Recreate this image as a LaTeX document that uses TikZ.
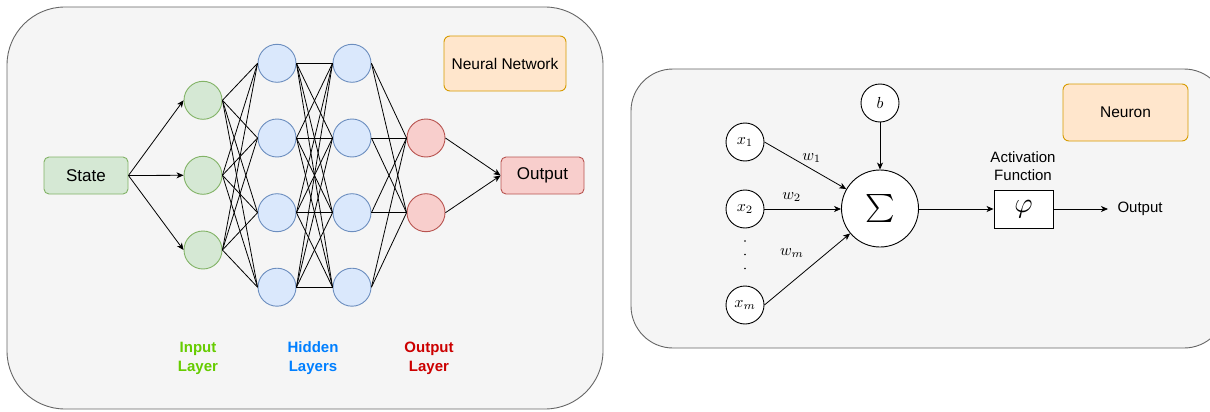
\documentclass[tikz,border=0pt]{standalone}
\usepackage{graphicx}
\usepackage{fontspec}
\setmainfont{Liberation Sans}
\usetikzlibrary{arrows.meta}

\definecolor{panelfill}{HTML}{F5F5F5}
\definecolor{paneldraw}{HTML}{666666}
\definecolor{greenfill}{HTML}{D5E8D4}
\definecolor{greendraw}{HTML}{82B366}
\definecolor{bluefill}{HTML}{DAE8FC}
\definecolor{bluedraw}{HTML}{6C8EBF}
\definecolor{redfill}{HTML}{F8CECC}
\definecolor{reddraw}{HTML}{B85450}
\definecolor{orangefill}{HTML}{FFE6CC}
\definecolor{orangedraw}{HTML}{D79B00}
\definecolor{inlabel}{HTML}{66CC00}
\definecolor{hidlabel}{HTML}{007FFF}
\definecolor{outlabel}{HTML}{CC0000}

% math set at the default size and enlarged
\newcommand{\bigmath}[2]{\scalebox{#1}{$#2$}}

\tikzset{
  panel/.style={draw=paneldraw, fill=panelfill, line width=0.9pt},
  tagbox/.style={draw=orangedraw, fill=orangefill, rounded corners=6pt, line width=0.9pt,
    font=\fontsize{15.5}{18}\selectfont},
  databox/.style={rounded corners=5pt, line width=0.9pt, minimum height=37pt,
    font=\fontsize{17}{20}\selectfont},
  unit/.style={circle, minimum size=38pt, inner sep=0pt, line width=0.9pt},
  inunit/.style={unit, draw=greendraw, fill=greenfill},
  hidunit/.style={unit, draw=bluedraw, fill=bluefill},
  outunit/.style={unit, draw=reddraw, fill=redfill},
  link/.style={line width=0.8pt, black},
  arr/.style={link, -{Stealth[length=7pt,width=6pt,inset=2pt]}},
  layerlabel/.style={align=center, font=\fontsize{15}{19}\selectfont\bfseries},
  mnode/.style={circle, draw=black, fill=white, minimum size=38pt, inner sep=0pt,
    line width=0.9pt},
  wlabel/.style={inner sep=1pt},
  txt/.style={font=\fontsize{15}{18}\selectfont},
}

\begin{document}
\begin{tikzpicture}[x=1pt, y=-1pt]
\useasboundingbox (0,0) rectangle (1210,412);
\clip (0,0) rectangle (1210,412);

% ---------- neural network panel ----------
\draw[panel, rounded corners=58pt] (7,7) rectangle (603,409);
\node[tagbox, minimum width=122pt, minimum height=55pt] (nn) at (505,63.5) {Neural Network};

\node[databox, draw=greendraw, fill=greenfill, minimum width=84pt] (state) at (86,175.5) {State};
\node[databox, draw=reddraw, fill=redfill, minimum width=83pt] (out) at (542.5,175.5) {Output};

\foreach \i/\y in {1/100.3, 2/175.3, 3/250}
  \node[inunit] (i\i) at (203,\y) {};
\foreach \i/\y in {1/63.3, 2/138, 3/212.7, 4/287.2} {
  \node[hidunit] (h\i) at (277,\y) {};
  \node[hidunit] (g\i) at (352,\y) {};
}
\foreach \i/\y in {1/138, 2/212.7}
  \node[outunit] (o\i) at (426,\y) {};

% connections
\foreach \i in {1,2,3}
  \draw[arr] (state.east) -- (i\i.west);
\foreach \i in {1,2,3}
  \foreach \j in {1,2,3,4}
    \draw[link] (i\i.east) -- (h\j.west);
\foreach \i in {1,2,3,4}
  \foreach \j in {1,2,3,4}
    \draw[link] (h\i.east) -- (g\j.west);
\foreach \i in {1,2,3,4}
  \foreach \j in {1,2}
    \draw[link] (g\i.east) -- (o\j.west);
\foreach \i in {1,2}
  \draw[arr] (o\i.east) -- (out.west);

% layer captions
\node[layerlabel, text=inlabel] (lin) at (198,358.5) {Input\\Layer};
\node[layerlabel, text=hidlabel] (lhid) at (313,358.5) {Hidden\\Layers};
\node[layerlabel, text=outlabel] (lout) at (429,358.5) {Output\\Layer};

% ---------- single neuron panel ----------
\draw[panel, rounded corners=42pt] (631,69) rectangle (1226,348);
\node[tagbox, minimum width=125pt, minimum height=57pt] (nr) at (1125.5,112.5) {Neuron};

\node[mnode] (b) at (880,103) {\bigmath{1.6}{b}};
\node[mnode] (x1) at (745,142) {\bigmath{1.6}{x_1}};
\node[mnode] (x2) at (745,209) {\bigmath{1.6}{x_2}};
\node[mnode] (xm) at (745,305) {\bigmath{1.6}{x_m}};
\node[circle, draw=black, fill=white, minimum size=77pt, inner sep=0pt, line width=0.9pt]
  (sig) at (880,208.5) {\bigmath{2.8}{\sum}};
\node[draw=black, fill=white, line width=0.9pt, minimum width=59pt, minimum height=38pt,
  inner sep=0pt] (phi) at (1023.5,209) {\bigmath{2.8}{\varphi}};
\node[txt, align=center] (act) at (1023,166) {Activation\\Function};
\coordinate (yend) at (1108,209);
\node[txt, anchor=west] (ylab) at (1114,209) {Output};

\foreach \y in {241,254.5,268.5}
  \fill (745,\y) circle (0.9pt);

\draw[arr] (x1.east) -- (sig);
\draw[arr] (x2.east) -- (sig.west |- x2.east);
\draw[arr] (xm.east) -- (sig);
\draw[arr] (b) -- (sig);
\draw[arr] (sig.east |- phi.west) -- (phi.west);
\draw[arr] (phi.east) -- (yend);

\node[wlabel] (w1) at (811.7,158.3) {\bigmath{1.6}{w_1}};
\node[wlabel] (w2) at (791.7,197.3) {\bigmath{1.6}{w_2}};
\node[wlabel] (wm) at (792,253.3) {\bigmath{1.6}{w_m}};
\end{tikzpicture}
\end{document}
